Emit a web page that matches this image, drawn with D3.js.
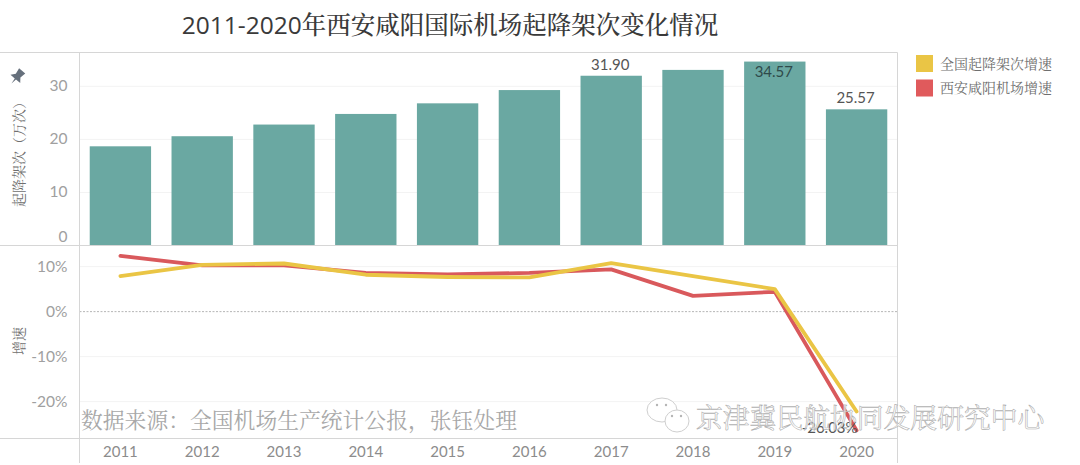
<!DOCTYPE html>
<html>
<head>
<meta charset="utf-8">
<script src="https://cdn.jsdelivr.net/npm/d3@7"></script>
<style>
  html, body { margin: 0; padding: 0; background: #fff; }
  svg { display: block; }
  text { font-family: Lato, 'Noto Sans CJK SC', sans-serif; }
  .cjk { font-family: 'Noto Serif CJK SC', 'Noto Sans CJK SC', serif; }
  .title { font-family: 'Open Sans', 'Noto Serif CJK SC', 'Noto Sans CJK SC', serif; }
</style>
</head>
<body>
<svg id="chart" width="1080" height="465"></svg>
<script>
const years = ['2011', '2012', '2013', '2014', '2015', '2016', '2017', '2018', '2019', '2020'];
const movements = [18.6, 20.5, 22.7, 24.7, 26.7, 29.2, 31.9, 33.0, 34.57, 25.57];  // 万次
const nationalGrowth = [7.9, 10.4, 10.7, 8.2, 7.7, 7.6, 10.8, 7.9, 5.0, -22.2];
const xianGrowth = [12.4, 10.3, 10.3, 8.6, 8.3, 8.6, 9.4, 3.5, 4.4, -26.4];
const legendNames = ['全国起降架次增速', '西安咸阳机场增速'];
const barLabels = {'2017': '31.90', '2019': '34.57', '2020': '25.57'};
const barTicks = [0, 10, 20, 30];
const growthTicks = [10, 0, -10, -20];

const left = 79.5, right = 897.5;
const topY = 52.5, midY = 245.5, botY = 438.5, axisEnd = 463;

const barColor = '#6aa8a2', yellow = '#eac545', red = '#d9595c';
const rule = '#d6d6d6', grid = '#f3f3f3', tickColor = '#a0a0a0';

const svg = d3.select('#chart');

const x = d3.scaleBand(years, [left, right]).paddingInner(0.25).paddingOuter(0.125);
const yBar = d3.scaleLinear([0, 36.28], [245, topY]);
const yGrowth = d3.scaleLinear([-28.2, 14.7], [botY, midY]);
const cx = d => x(d) + x.bandwidth() / 2;

// 标题
svg.append('text')
  .attr('class', 'title')
  .attr('x', 450).attr('y', 34)
  .attr('text-anchor', 'middle')
  .attr('font-size', 24.5)
  .attr('font-weight', 500)
  .attr('fill', '#3a3a3a')
  .text('2011-2020年西安咸阳国际机场起降架次变化情况');

// 网格线
const gridG = svg.append('g').attr('stroke', grid);
gridG.selectAll('.bar-grid').data(barTicks.slice(1)).join('line')
  .attr('x1', left).attr('x2', right)
  .attr('y1', d => yBar(d) + 0.5).attr('y2', d => yBar(d) + 0.5);
gridG.selectAll('.growth-grid').data(growthTicks.filter(d => d !== 0)).join('line')
  .attr('x1', left).attr('x2', right)
  .attr('y1', d => yGrowth(d)).attr('y2', d => yGrowth(d));

svg.append('line')
  .attr('x1', left).attr('x2', right)
  .attr('y1', yGrowth(0)).attr('y2', yGrowth(0))
  .attr('stroke', '#b5b5b5')
  .attr('stroke-dasharray', '2,1.5');

// 柱子
svg.append('g').selectAll('rect').data(years).join('rect')
  .attr('x', d => x(d))
  .attr('width', x.bandwidth())
  .attr('y', (d, i) => yBar(movements[i]))
  .attr('height', (d, i) => yBar(0) - yBar(movements[i]))
  .attr('fill', barColor);

// 框线
const frame = svg.append('g').attr('stroke', rule).attr('fill', 'none');
[topY, midY, botY].forEach(y => {
  frame.append('line').attr('x1', 0).attr('x2', right).attr('y1', y).attr('y2', y);
});
frame.append('line').attr('x1', left).attr('x2', left).attr('y1', topY).attr('y2', axisEnd);
frame.append('line').attr('x1', right).attr('x2', right).attr('y1', topY).attr('y2', axisEnd);

// 坐标轴
const axisStyle = g => g
  .call(s => s.select('.domain').remove())
  .call(s => s.selectAll('line').remove())
  .call(s => s.selectAll('text')
    .attr('fill', tickColor)
    .attr('font-size', 15.5));

svg.append('g')
  .attr('transform', `translate(${left - 9},0)`)
  .call(d3.axisLeft(yBar).tickValues(barTicks).tickFormat(d3.format('d')).tickSize(0))
  .call(axisStyle)
  .call(g => g.selectAll('.tick').filter(d => d === 0).select('text').attr('dy', '-0.25em'));

svg.append('g')
  .attr('transform', `translate(${left - 9},0)`)
  .call(d3.axisLeft(yGrowth).tickValues(growthTicks).tickFormat(d => d + '%').tickSize(0))
  .call(axisStyle);

svg.append('g')
  .attr('transform', `translate(0,${botY + 5})`)
  .call(d3.axisBottom(x).tickSize(0))
  .call(axisStyle)
  .call(g => g.selectAll('text').attr('fill', '#8c8c8c').attr('font-size', 15));

// 轴标题
const axisTitle = (text, y) => svg.append('text')
  .attr('class', 'cjk')
  .attr('transform', `translate(24,${y}) rotate(-90)`)
  .attr('text-anchor', 'middle')
  .attr('font-size', 14)
  .attr('fill', '#6f6f6f')
  .text(text);
axisTitle('起降架次（万次）', 151);
axisTitle('增速', 341);

// 图钉
svg.append('path')
  .attr('transform', 'translate(17,77) rotate(40) scale(1.15)')
  .attr('fill', '#66707c')
  .attr('d', 'M-3.5,-7 L3.5,-7 L2.6,-1.5 L5.5,2.2 L0.7,2.2 L0,7.5 L-0.7,2.2 L-5.5,2.2 L-2.6,-1.5 Z');

// 折线
const line = d3.line().x((d, i) => cx(years[i])).y(d => yGrowth(d));
svg.append('path').datum(xianGrowth)
  .attr('d', line).attr('fill', 'none')
  .attr('stroke', red).attr('stroke-width', 3.8)
  .attr('stroke-linejoin', 'round').attr('stroke-linecap', 'round');
svg.append('path').datum(nationalGrowth)
  .attr('d', line).attr('fill', 'none')
  .attr('stroke', yellow).attr('stroke-width', 3.8)
  .attr('stroke-linejoin', 'round').attr('stroke-linecap', 'round');

// 数据标签
years.forEach((year, i) => {
  if (!barLabels[year]) return;
  const inside = year === '2019';
  svg.append('text')
    .attr('x', cx(year) - 1)
    .attr('y', yBar(movements[i]) + (inside ? 15 : -6))
    .attr('text-anchor', 'middle')
    .attr('font-size', 15)
    .attr('fill', inside ? '#2f4a4a' : '#555')
    .text(barLabels[year]);
});
svg.append('text')
  .attr('x', cx('2020') - 27).attr('y', 433)
  .attr('text-anchor', 'middle')
  .attr('font-size', 15)
  .attr('fill', '#555')
  .text('-26.03%');

// 图例
const legend = svg.append('g').selectAll('g').data(legendNames).join('g')
  .attr('transform', (d, i) => `translate(916,${55 + i * 24.5})`);
legend.append('rect').attr('width', 17).attr('height', 17)
  .attr('fill', (d, i) => i === 0 ? yellow : '#e05a5c');
legend.append('text')
  .attr('class', 'cjk')
  .attr('x', 24).attr('y', 13.5)
  .attr('font-size', 14)
  .attr('fill', '#6f6f6f')
  .text(d => d);

// 水印
svg.append('text')
  .attr('class', 'cjk')
  .attr('x', 81).attr('y', 428)
  .attr('font-size', 21.8)
  .attr('fill', '#a8a8a8')
  .text('数据来源：全国机场生产统计公报，张钰处理');

const mark = svg.append('g').attr('fill', '#fff').attr('stroke', '#cfcfcf').attr('stroke-width', 1);
mark.append('ellipse').attr('cx', 662).attr('cy', 410).attr('rx', 15).attr('ry', 12);
mark.append('ellipse').attr('cx', 677).attr('cy', 421).attr('rx', 12).attr('ry', 11);
mark.selectAll('.eye').data([657, 666, 672, 681]).join('circle')
  .attr('cx', d => d).attr('cy', (d, i) => i < 2 ? 405 : 416).attr('r', 1.2)
  .attr('fill', '#b5b5b5').attr('stroke', 'none');

svg.append('text')
  .attr('class', 'cjk')
  .attr('x', 696).attr('y', 428)
  .attr('font-size', 26.8)
  .attr('fill', '#fff')
  .attr('fill-opacity', 0.75)
  .attr('stroke', '#b0b0b0')
  .attr('stroke-width', 0.6)
  .text('京津冀民航协同发展研究中心');
</script>
</body>
</html>
